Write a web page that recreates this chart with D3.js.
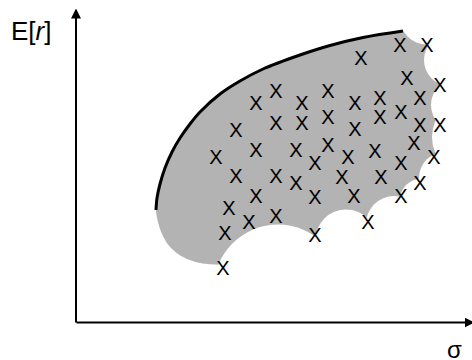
<!DOCTYPE html>
<html>
<head>
<meta charset="utf-8">
<script src="https://cdn.jsdelivr.net/npm/d3@7"></script>
<style>
body { margin: 0; background: #fff; }
text { font-family: "Liberation Sans", Arial, sans-serif; fill: #000; }
</style>
</head>
<body>
<svg id="chart" width="472" height="360"></svg>
<script>
var width = 472, height = 360

// single assets (sigma, E[r])
var assetSigma = [32.4, 35.1, 28.5, 33.1, 36.4, 20.0, 25.2, 18.0, 22.6, 27.9, 30.4, 34.4,
  32.5, 25.2, 30.4, 20.0, 22.6, 27.9, 34.4, 36.4, 16.0, 25.2, 33.8, 18.0,
  22.0, 29.9, 14.0, 27.2, 35.8, 23.9, 32.5, 16.0, 20.0, 26.6, 30.5, 22.0,
  34.4, 18.0, 23.9, 27.8, 32.5, 15.3, 20.0, 17.3, 14.9, 23.9, 29.2, 14.7]
var assetReturn = [27.7, 27.7, 26.4, 24.4, 23.7, 23.1, 23.1, 21.9, 21.9, 21.9, 22.4, 22.4,
  21.0, 20.5, 20.5, 19.9, 19.9, 19.3, 19.7, 19.7, 19.2, 17.7, 17.9, 17.2,
  17.2, 17.1, 16.5, 16.5, 16.5, 15.9, 15.9, 14.6, 14.6, 14.5, 14.5, 13.9,
  13.9, 12.6, 12.5, 12.6, 12.6, 11.4, 10.6, 10.0, 8.9, 8.7, 10.0, 5.4]

// efficient frontier, from the minimum variance point upwards
var frontierSigma = [8.0, 8.1, 8.4, 8.9, 9.6, 10.4, 11.4, 12.4, 14.4, 16.4, 18.7, 22.4, 25.4, 28.7, 32.7]
var frontierReturn = [11.2, 12.4, 13.8, 15.4, 17.0, 18.4, 19.8, 21.0, 22.8, 24.1, 25.3, 26.7, 27.65, 28.45, 29.1]

// lower (inefficient) edge, from the bottom tip up to the minimum variance point
var lowerSigma = [14.5, 12.4, 10.7, 9.4, 8.6, 8.2]
var lowerReturn = [5.7, 5.9, 6.5, 7.5, 8.8, 10.0]

// two-asset curves that carve the right and bottom side (circle centre, radius)
var cutSigma = [35.1, 37.4, 38.2, 39.5, 36.9, 34.6, 31.8, 27.0, 20.2]
var cutReturn = [30.5, 26.2, 21.7, 18.5, 14.4, 12.1, 9.8, 8.2, 3.3]
var cutRadius = [2.75, 2.6, 2.7, 3.9, 2.6, 2.25, 2.8, 3.05, 6.45]

var x = d3.scaleLinear().domain([0, 39.6]).range([76, 472])
var y = d3.scaleLinear().domain([0, 31.2]).range([322, 10])

var svg = d3.select('#chart')

var cuts = cutSigma.map(function(s, i) {
  return { cx: x(s), cy: y(cutReturn[i]), r: x(cutRadius[i]) - x(0) }
})

var defs = svg.append('defs')
var mask = defs.append('mask').attr('id', 'carve')
mask.append('rect').attr('width', width).attr('height', height).attr('fill', '#fff')
mask.selectAll('circle')
  .data(cuts)
  .enter()
  .append('circle')
  .attr('cx', function(d) { return d.cx })
  .attr('cy', function(d) { return d.cy })
  .attr('r', function(d) { return d.r })
  .attr('fill', '#000')

defs.append('marker')
  .attr('id', 'arrow')
  .attr('viewBox', '0 0 10 10')
  .attr('refX', 8)
  .attr('refY', 5)
  .attr('markerWidth', 10)
  .attr('markerHeight', 10)
  .attr('markerUnits', 'userSpaceOnUse')
  .attr('orient', 'auto')
  .append('path')
  .attr('d', 'M0,0L10,5L0,10z')
  .attr('fill', '#000')

// where two neighbouring cut circles meet
function meet(a, b) {
  var dx = b.cx - a.cx, dy = b.cy - a.cy, d = Math.hypot(dx, dy)
  var l = (a.r * a.r - b.r * b.r + d * d) / (2 * d)
  var h = Math.sqrt(Math.max(0, a.r * a.r - l * l))
  var mx = a.cx + l * dx / d, my = a.cy + l * dy / d
  var p1 = [mx - h * dy / d, my + h * dx / d], p2 = [mx + h * dy / d, my - h * dx / d]
  var c = [x(25), y(17)]
  return Math.hypot(p1[0] - c[0], p1[1] - c[1]) < Math.hypot(p2[0] - c[0], p2[1] - c[1]) ? p1 : p2
}

var frontier = frontierSigma.map(function(s, i) { return [s, frontierReturn[i]] })
var outline = lowerSigma.map(function(s, i) { return [s, lowerReturn[i]] }).concat(frontier)

var smooth = d3.line()
  .x(function(d) { return x(d[0]) })
  .y(function(d) { return y(d[1]) })
  .curve(d3.curveCatmullRom)

var p = d3.path()
smooth.context(p)(outline)
for (var i = 0; i < cuts.length - 1; i++) {
  var q = meet(cuts[i], cuts[i + 1])
  p.lineTo(q[0], q[1])
}
p.closePath()

svg.append('path')
  .attr('d', p.toString())
  .attr('fill', '#b3b3b3')
  .attr('mask', 'url(#carve)')

smooth.context(null)
svg.append('path')
  .attr('d', smooth(frontier))
  .attr('fill', 'none')
  .attr('stroke', '#000')
  .attr('stroke-width', 3)

svg.append('g')
  .selectAll('text')
  .data(assetSigma)
  .enter()
  .append('text')
  .attr('x', function(d) { return x(d) })
  .attr('y', function(d, i) { return y(assetReturn[i]) + 7 })
  .attr('text-anchor', 'middle')
  .style('font-size', '20px')
  .text('X')

// axes
svg.append('g')
  .attr('transform', 'translate(0,' + y(0) + ')')
  .call(d3.axisBottom(x).tickValues([]).tickSizeOuter(0))
svg.append('g')
  .attr('transform', 'translate(' + (x(0) - 0.5) + ',0)')
  .call(d3.axisLeft(y).tickValues([]).tickSizeOuter(0))
svg.selectAll('.domain')
  .attr('stroke', '#000')
  .attr('stroke-width', 2)
  .attr('marker-end', 'url(#arrow)')

var yLabel = svg.append('text')
  .attr('x', 11)
  .attr('y', 40)
  .style('font-size', '26px')
yLabel.append('tspan').text('E[')
yLabel.append('tspan').style('font-style', 'italic').text('r')
yLabel.append('tspan').text(']')

svg.append('text')
  .attr('x', 454.5)
  .attr('y', 358)
  .attr('text-anchor', 'middle')
  .style('font-size', '24px')
  .text('σ')
</script>
</body>
</html>
